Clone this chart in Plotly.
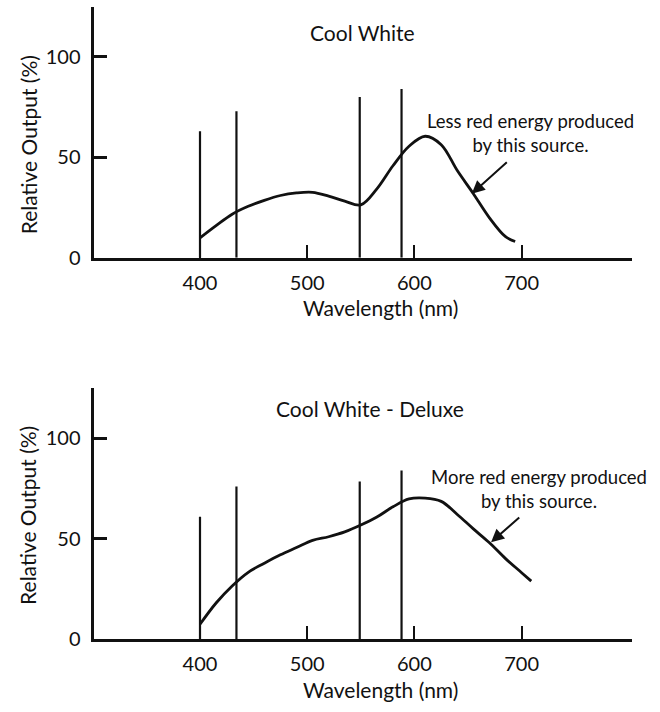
import plotly.graph_objects as go

# Mercury emission lines (nm) and their relative heights (%)
line_nm = [400, 434, 549, 588]
cool_white_lines = [63, 73, 80, 84]
deluxe_lines = [61, 76, 78.5, 84]

# Continuous phosphor spectrum, Cool White
cw_nm = [400, 415, 430, 445, 460, 475, 490, 505, 520, 535, 550, 565, 580, 595,
         610, 625, 640, 655, 670, 685, 694]
cw_out = [9.9, 16.0, 21.7, 25.6, 28.6, 31.0, 32.3, 32.6, 30.7, 28.2, 26.3, 34.3, 45.8, 55.5,
          60.5, 56.3, 43.4, 31.9, 19.9, 10.5, 8.1]

# Continuous phosphor spectrum, Cool White - Deluxe
dx_nm = [400, 415, 430, 445, 460, 475, 490, 505, 520, 535, 550, 565, 580, 595,
         610, 625, 640, 655, 670, 685, 700, 709]
dx_out = [7.4, 18.0, 26.5, 33.3, 37.8, 42.0, 45.6, 49.2, 51.0, 53.4, 56.8, 60.8, 65.9, 69.8,
          70.2, 68.6, 62.1, 54.9, 48.0, 40.1, 33.1, 28.9]

x_ticks = [400, 500, 600, 700]
y_ticks = [0, 50, 100]

panels = [
    dict(title="Cool White", lines=cool_white_lines, nm=cw_nm, out=cw_out,
         note="Less red energy produced<br>by this source.", note_xy=(708.5, 62.3),
         arrow_tail=(687.6, 48.2), arrow_head=(653.5, 31.9)),
    dict(title="Cool White - Deluxe", lines=deluxe_lines, nm=dx_nm, out=dx_out,
         note="More red energy produced<br>by this source.", note_xy=(716.0, 74.6),
         arrow_tail=(699.2, 61.3), arrow_head=(671.5, 48.2)),
]

W, H = 660, 712
FONT = "Lato"
INK = "#111111"

x_dom = [93.5 / W, 631.7 / W]
y_doms = [[1 - 261.8 / H, 1 - 6.8 / H], [1 - 649.2 / H, 1 - 394.2 / H]]
title_px = [(362.5, 32.7), (370.0, 414.5)]
ytitle_px = [147.5, 524.0]
xtitle_px = [312.5, 700.0]

fig = go.Figure()
annotations = []

for i, p in enumerate(panels):
    n = i + 1
    xa = "x" if n == 1 else f"x{n}"
    ya = "y" if n == 1 else f"y{n}"

    # emission lines as vertical segments
    xs, ys = [], []
    for w, h in zip(line_nm, p["lines"]):
        xs += [w, w, None]
        ys += [0, h, None]
    fig.add_trace(go.Scatter(x=xs, y=ys, mode="lines", xaxis=xa, yaxis=ya,
                             line=dict(color=INK, width=2.2), showlegend=False,
                             hoverinfo="skip"))

    # smooth spectrum curve
    fig.add_trace(go.Scatter(x=p["nm"], y=p["out"], mode="lines", xaxis=xa, yaxis=ya,
                             line=dict(color=INK, width=2.8, shape="spline", smoothing=1.0),
                             showlegend=False))

    axis_common = dict(showline=True, linecolor=INK, linewidth=3, showgrid=False,
                       zeroline=False, ticks="inside", tickcolor=INK,
                       tickfont=dict(family=FONT, size=20, color=INK))
    fig.layout[f"xaxis{'' if n == 1 else n}"] = dict(
        axis_common, domain=x_dom, range=[300.65, 802.7], tickvals=x_ticks,
        ticklen=13, tickwidth=2.2, anchor=ya, ticklabelstandoff=5)
    fig.layout[f"yaxis{'' if n == 1 else n}"] = dict(
        axis_common, domain=y_doms[i], range=[0, 125], tickvals=y_ticks,
        ticklen=13, tickwidth=3, anchor=xa, ticklabelstandoff=6)

    # panel title
    annotations.append(dict(text=p["title"], xref="paper", yref="paper",
                            x=title_px[i][0] / W, y=1 - title_px[i][1] / H, showarrow=False,
                            xanchor="center", yanchor="middle",
                            font=dict(family=FONT, size=21, color=INK)))
    # axis titles
    annotations.append(dict(text="Wavelength (nm)", xref="paper", yref="paper",
                            x=380 / W, y=1 - xtitle_px[i] / H, showarrow=False,
                            xanchor="center", yanchor="middle",
                            font=dict(family=FONT, size=21, color=INK)))
    annotations.append(dict(text="Relative Output (%)", xref="paper", yref="paper",
                            x=28 / W, y=1 - ytitle_px[i] / H, showarrow=False,
                            textangle=-90, xanchor="center", yanchor="middle",
                            font=dict(family=FONT, size=21, color=INK)))
    # note text
    annotations.append(dict(text=p["note"], xref=xa, yref=ya,
                            x=p["note_xy"][0], y=p["note_xy"][1], showarrow=False,
                            xanchor="center", yanchor="middle", align="center",
                            font=dict(family=FONT, size=18.5, color=INK)))
    # arrow pointing at the red end of the curve
    annotations.append(dict(text="", xref=xa, yref=ya, axref=xa, ayref=ya,
                            x=p["arrow_head"][0], y=p["arrow_head"][1],
                            ax=p["arrow_tail"][0], ay=p["arrow_tail"][1],
                            showarrow=True, arrowhead=2, arrowsize=1.3,
                            arrowwidth=2, arrowcolor=INK))

fig.update_layout(width=W, height=H, margin=dict(l=0, r=0, t=0, b=0),
                  paper_bgcolor="white", plot_bgcolor="white",
                  annotations=annotations, showlegend=False)

fig.write_html("out.html")
